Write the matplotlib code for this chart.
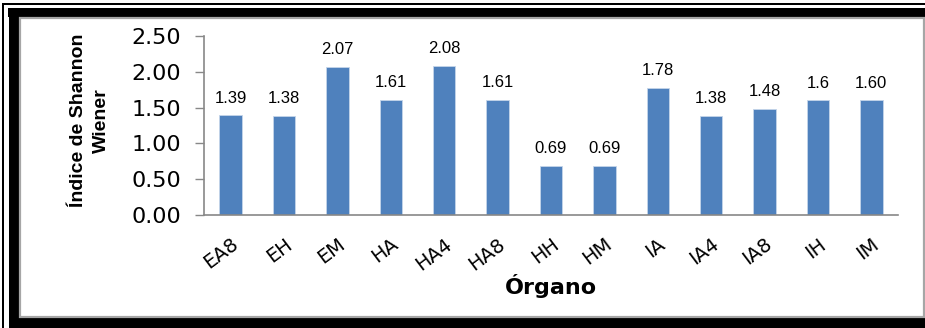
import matplotlib
matplotlib.use("Agg")
import matplotlib.pyplot as plt
from matplotlib import font_manager
from matplotlib.patches import Rectangle

# --------------------------------------------------------------------------------

organos = ["EA8", "EH", "EM", "HA", "HA4", "HA8", "HH", "HM", "IA", "IA4", "IA8", "IH", "IM"]
shannon = [1.39, 1.38, 2.07, 1.61, 2.08, 1.61, 0.69, 0.69, 1.78, 1.38, 1.48, 1.6, 1.60]
etiquetas = ["1.39", "1.38", "2.07", "1.61", "2.08", "1.61", "0.69", "0.69", "1.78", "1.38", "1.48", "1.6", "1.60"]
yticks = [0.0, 0.5, 1.0, 1.5, 2.0, 2.5]

W, H = 925, 328
BAR = "#4F81BD"
AXIS = "#888888"

installed = {f.name for f in font_manager.fontManager.ttflist}
narrow = "Liberation Sans Narrow" if "Liberation Sans Narrow" in installed else "Liberation Sans"
narrow_size = 16 if narrow == "Liberation Sans Narrow" else 14

plt.rcParams["font.family"] = ["Liberation Sans", "DejaVu Sans"]

fig = plt.figure(figsize=(W / 100, H / 100), dpi=100)


def px_rect(x0, y0, x1, y1, **kw):
    # rectangle given in image pixels (origin top-left)
    r = Rectangle((x0 / W, 1 - y1 / H), (x1 - x0) / W, (y1 - y0) / H,
                  transform=fig.transFigure, **kw)
    fig.add_artist(r)


# ---------- frame around the chart
px_rect(2, 3, W + 1, 5, color="black", lw=0)
px_rect(2, 3, 4, H + 1, color="black", lw=0)
px_rect(8, 8, W + 1, 17, color="black", lw=0)
px_rect(9, 8, 19, H + 1, color="black", lw=0)
px_rect(9, 318, W + 1, H + 1, color="black", lw=0)
px_rect(19.5, 17.5, 923.5, 317, facecolor="none", edgecolor="#a6a6a6", lw=1.6)

# ---------- bars
ax = fig.add_axes([204 / W, 1 - 215 / H, (898 - 204) / W, (215 - 36) / H])
bars = ax.bar(range(len(organos)), shannon, width=0.42, color=BAR,
              edgecolor="#c5d5ea", linewidth=0.6, zorder=2)
ax.bar_label(bars, labels=etiquetas, padding=7, fontsize=12)

ax.set_xlim(-0.5, len(organos) - 0.5)
ax.set_ylim(0, 2.5)
ax.set_yticks(yticks)
ax.set_yticklabels([f"{v:.2f}" for v in yticks], family="DejaVu Sans", fontsize=16)
ax.set_xticks(range(len(organos)))
ax.set_xticklabels(organos, rotation=37, ha="right", va="top",
                   rotation_mode="anchor", family="DejaVu Sans", fontsize=14)

ax.tick_params(axis="y", length=6.5, width=1, color=AXIS, pad=10)
ax.tick_params(axis="x", length=0, pad=14)
for s in ["top", "right"]:
    ax.spines[s].set_visible(False)
for s in ["left", "bottom"]:
    ax.spines[s].set_color(AXIS)
    ax.spines[s].set_linewidth(1.2)

ax.set_xlabel("Órgano", family="DejaVu Sans", fontweight="bold", fontsize=16, labelpad=0)
ax.set_ylabel("Índice de Shannon\nWiener", family=narrow, fontweight="bold",
              fontsize=narrow_size, linespacing=1.45)
ax.yaxis.set_label_coords(-0.135, 0.53)

fig.savefig("out.png", dpi=100)
